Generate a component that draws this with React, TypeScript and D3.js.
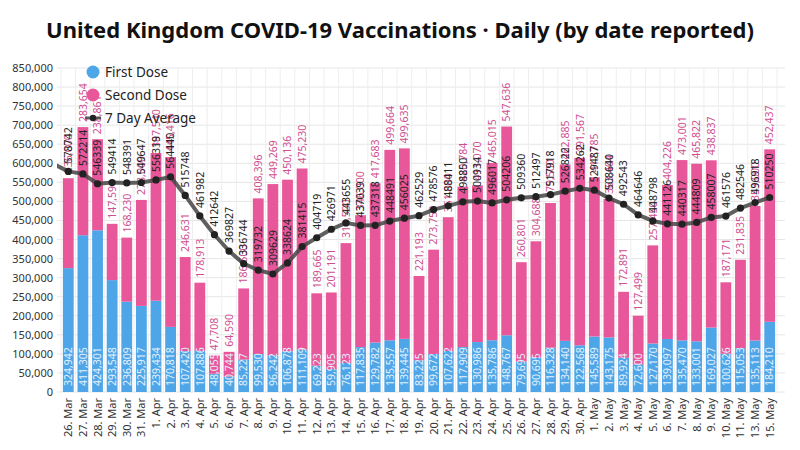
import * as d3 from 'd3';

const dates = [
  '26. Mar', '27. Mar', '28. Mar', '29. Mar', '30. Mar', '31. Mar',
  '1. Apr', '2. Apr', '3. Apr', '4. Apr', '5. Apr', '6. Apr', '7. Apr', '8. Apr', '9. Apr', '10. Apr',
  '11. Apr', '12. Apr', '13. Apr', '14. Apr', '15. Apr', '16. Apr', '17. Apr', '18. Apr', '19. Apr', '20. Apr',
  '21. Apr', '22. Apr', '23. Apr', '24. Apr', '25. Apr', '26. Apr', '27. Apr', '28. Apr', '29. Apr', '30. Apr',
  '1. May', '2. May', '3. May', '4. May', '5. May', '6. May', '7. May', '8. May', '9. May',
  '10. May', '11. May', '13. May', '15. May',
];

const firstDose = [
  324942, 411305, 424301, 293548, 236809, 225917,
  239434, 170818, 107420, 107886, 48055, 40744, 85227, 99530, 96242, 106878,
  111109, 69223, 59905, 76123, 117835, 129782, 135557, 139445, 83225, 99672,
  107622, 117909, 130986, 135786, 148767, 79695, 90695, 116328, 134140, 122568,
  145589, 143175, 89924, 72600, 127170, 139097, 135470, 133001, 169027,
  100626, 115053, 135113, 184210,
];

const secondDose = [
  236000, 283654, 238861, 147594, 168230, 278000,
  387540, 445416, 246631, 178913, 47708, 64590, 186500, 408396, 449269, 450136,
  475230, 189665, 201191, 314500, 346000, 417683, 499664, 499635, 221193, 273750,
  351000, 420784, 411070, 465015, 547636, 260801, 304688, 379500, 462885, 491567,
  417785, 363404, 172891, 127499, 257450, 404226, 473001, 465822, 438837,
  187171, 231835, 353000, 452437,
];

const sevenDayAvg = [
  578742, 572214, 546339, 549414, 548391, 549647,
  556319, 564440, 515748, 461982, 412642, 369827, 336744, 319732, 309629, 338624,
  381415, 404719, 426971, 443655, 437039, 437318, 448491, 456025, 462529, 478576,
  488411, 498850, 500934, 496017, 504206, 509360, 512497, 517918, 526822, 534262,
  529487, 508640, 492543, 464646, 448798, 441126, 440317, 444809, 458007,
  461576, 482546, 496918, 510250,
];

// average of the day before the first shown, line runs off the left edge
const avgBefore = 598000;

const yTicks = d3.range(0, 850001, 50000);

const FONT = '"Noto Sans", "Open Sans", sans-serif';
const BLUE = '#4ea6e8';
const PINK = '#e9579b';

export default function App() {
  const width = 800;
  const height = 450;
  const gridLeft = 57;
  const gridRight = 785;
  const plotTop = 68;
  const plotBottom = 392;

  const x = d3.scaleBand<string>()
    .domain(dates)
    .range([61, 777])
    .paddingInner(0.26)
    .paddingOuter(0.13);

  const y = d3.scaleLinear().domain([0, 850000]).range([plotBottom, plotTop]);

  const cx = (i: number) => (x(dates[i]) || 0) + x.bandwidth() / 2;
  const step = x.step();

  const linePts: [number, number][] = [
    [cx(0) - step, y(avgBefore)],
    ...sevenDayAvg.map((v, i) => [cx(i), y(v)] as [number, number]),
  ];
  const line = d3.line();
  const fmt = d3.format(',');

  return (
    <div style={{ position: 'absolute', left: 0, top: 0 }}>
      <svg width={width} height={height} style={{ display: 'block', fontFamily: FONT }}>
        <rect width={width} height={height} fill="#fff" />
        <defs>
          <clipPath id="plot">
            <rect x={gridLeft} y={0} width={gridRight - gridLeft} height={plotBottom} />
          </clipPath>
        </defs>

        <text x={400} y={38} textAnchor="middle" fontSize={22} fontWeight={700} fill="#111">
          United Kingdom COVID-19 Vaccinations · Daily (by date reported)
        </text>

        {/* grid */}
        {yTicks.map(t => (
          <line key={t} x1={gridLeft} x2={gridRight} y1={y(t)} y2={y(t)} stroke="#e6e6e6" strokeWidth={1} />
        ))}
        {d3.range(dates.length + 1).map(i => {
          const gx = 61 + x.paddingOuter() * step + i * step - (x.paddingInner() * step) / 2;
          return <line key={i} x1={gx} x2={gx} y1={plotTop} y2={plotBottom} stroke="#eeeeee" strokeWidth={1} />;
        })}

        {yTicks.map(t => (
          <text key={t} x={53} y={y(t) + 4} textAnchor="end" fontSize={11} fill="#333">
            {fmt(t)}
          </text>
        ))}

        {/* bars */}
        {dates.map((d, i) => (
          <g key={d}>
            <rect x={x(d)} y={y(firstDose[i])} width={x.bandwidth()} height={plotBottom - y(firstDose[i])} fill={BLUE} />
            <rect
              x={x(d)}
              y={y(firstDose[i] + secondDose[i])}
              width={x.bandwidth()}
              height={y(firstDose[i]) - y(firstDose[i] + secondDose[i])}
              fill={PINK}
            />
          </g>
        ))}

        {/* x labels */}
        {dates.map((d, i) => (
          <text
            key={d}
            transform={`translate(${cx(i) + 4},398) rotate(-90)`}
            textAnchor="end"
            fontSize={11}
            fill="#333"
          >
            {d}
          </text>
        ))}

        {/* first dose labels */}
        {dates.map((d, i) => (
          <text
            key={d}
            transform={`translate(${cx(i) + 3.8},${plotBottom - 6}) rotate(-90)`}
            fontSize={10.5}
            fill="#e4f1fc"
          >
            {fmt(firstDose[i])}
          </text>
        ))}

        {/* second dose labels */}
        {dates.map((d, i) => (
          <text
            key={d}
            transform={`translate(${cx(i) + 3.8},${y(firstDose[i] + secondDose[i]) - 5}) rotate(-90)`}
            fontSize={10.5}
            fill="#cf4f90"
          >
            {fmt(secondDose[i])}
          </text>
        ))}

        {/* 7 day average */}
        <path
          d={line(linePts) || ''}
          fill="none"
          stroke="#444"
          strokeOpacity={0.85}
          strokeWidth={4}
          strokeLinejoin="round"
          clipPath="url(#plot)"
        />
        {sevenDayAvg.map((v, i) => (
          <circle key={i} cx={cx(i)} cy={y(v)} r={3.6} fill="#222" />
        ))}
        {sevenDayAvg.map((v, i) => (
          <text
            key={i}
            transform={`translate(${cx(i) + 3.8},${y(v) - 8}) rotate(-90)`}
            fontSize={10.5}
            fill="#222"
          >
            {v}
          </text>
        ))}

        {/* legend */}
        <circle cx={93} cy={72} r={6.5} fill={BLUE} />
        <text x={105} y={77} fontSize={13.5} fill="#222">First Dose</text>
        <circle cx={93} cy={95} r={6.5} fill={PINK} />
        <text x={105} y={100} fontSize={13.5} fill="#222">Second Dose</text>
        <line x1={85} x2={101} y1={118} y2={118} stroke="#444" strokeOpacity={0.85} strokeWidth={3} />
        <circle cx={93} cy={118} r={3.2} fill="#222" />
        <text x={105} y={123} fontSize={13.5} fill="#222">7 Day Average</text>
      </svg>
    </div>
  );
}
